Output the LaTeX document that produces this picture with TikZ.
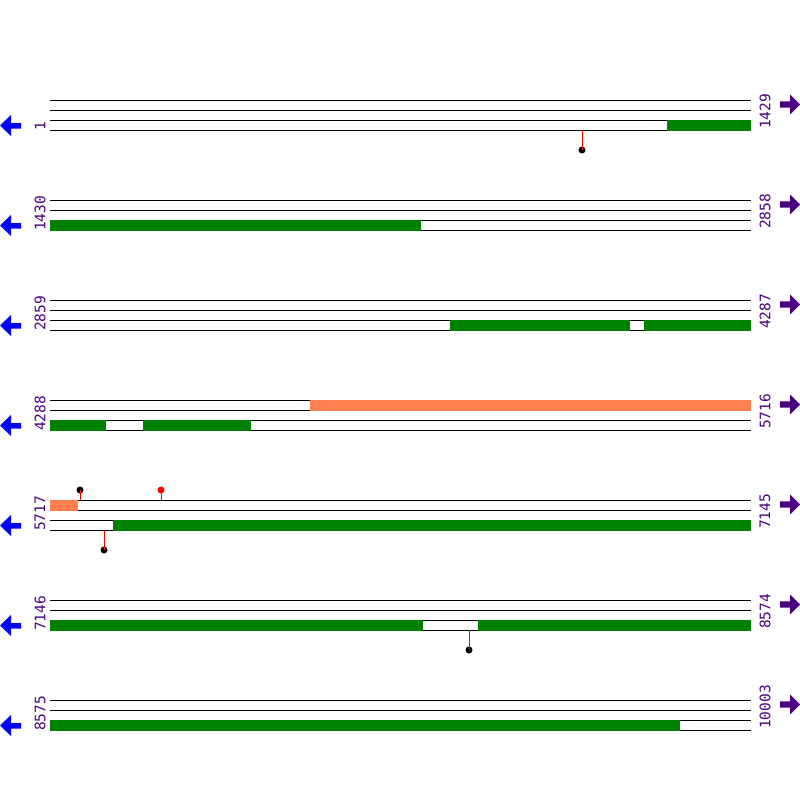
\documentclass[tikz,border=0pt]{standalone}
\usepackage{fontspec}
\setmonofont{DejaVu Sans Mono}
\usepackage{tikz}
\definecolor{cdsgreen}{RGB}{0,128,0}
\definecolor{regcoral}{RGB}{255,127,80}
\definecolor{seqpurple}{RGB}{75,0,130}
\tikzstyle{track} = [black, line width=1pt]
\tikzstyle{cds} = [fill=cdsgreen]
\tikzstyle{region} = [fill=regcoral]
\tikzstyle{numlabel} = [rotate=90, anchor=west, inner sep=0pt, text=seqpurple,
 font=\ttfamily\fontsize{14.5}{14.5}\selectfont]
\tikzstyle{pinstem} = [red, line width=1pt]
\tikzstyle{pinhead} = [circle, inner sep=0pt, minimum size=7pt]

\begin{document}
\begin{tikzpicture}[x=1pt, y=-1pt]
	\useasboundingbox (0,0) rectangle (800,800);
	% Zeilen: Linien, Beschriftungen, Pfeile
	\foreach \r/\a/\b in {0/1/1429, 1/1430/2858, 2/2859/4287, 3/4288/5716,
	                      4/5717/7145, 5/7146/8574, 6/8575/10003} {
		\pgfmathsetmacro\y{100+100*\r}
		\foreach \k in {0,10,20,30}
			\draw[track] (50,\y+\k) -- (751,\y+\k); % vier Linien
		\node[numlabel] (left\r) at (40,\y+31) {\a}; % Start
		\node[numlabel] (right\r) at (765,\y+29) {\b}; % Ende
		\fill[blue] (0,\y+25.5) -- (11,\y+15) -- (11,\y+23) -- (21,\y+23)
			-- (21,\y+28.5) -- (11,\y+28.5) -- (11,\y+36) -- cycle; % Pfeil links
		\fill[seqpurple] (800,\y+4.5) -- (790,\y-5.5) -- (790,\y+1.3) -- (780,\y+1.3)
			-- (780,\y+7.7) -- (790,\y+7.7) -- (790,\y+14.5) -- cycle; % Pfeil rechts
	}
	% Balken
	\fill[cds] (667,119.5) rectangle (751,130.5); % Zeile 1
	\fill[cds] (50,219.5) rectangle (421,230.5); % Zeile 2
	\fill[cds] (450,319.5) rectangle (630,330.5); % Zeile 3
	\fill[cds] (644,319.5) rectangle (751,330.5);
	\fill[region] (310,399.5) rectangle (751,410.5); % Zeile 4
	\fill[cds] (50,419.5) rectangle (106,430.5);
	\fill[cds] (143,419.5) rectangle (251,430.5);
	\fill[region] (50,499.5) rectangle (78,510.5); % Zeile 5
	\fill[cds] (113,519.5) rectangle (751,530.5);
	\fill[cds] (50,619.5) rectangle (423,630.5); % Zeile 6
	\fill[cds] (478,619.5) rectangle (751,630.5);
	\fill[cds] (50,719.5) rectangle (680,730.5); % Zeile 7
	% Markierungen
	\coordinate (m1) at (582,130);
	\node[pinhead, fill=black] (d1) at (582,150) {};
	\draw[pinstem] (m1) -- (d1.center);
	\coordinate (m2) at (80,500);
	\node[pinhead, fill=black] (d2) at (80,490) {};
	\draw[pinstem] (m2) -- (d2.center);
	\coordinate (m3) at (161,500);
	\node[pinhead, fill=red] (d3) at (161,490) {};
	\draw[pinstem] (m3) -- (d3.center);
	\coordinate (m4) at (104,530);
	\node[pinhead, fill=black] (d4) at (104,550) {};
	\draw[pinstem] (m4) -- (d4.center);
	\coordinate (m5) at (469,630);
	\node[pinhead, fill=black] (d5) at (469,650) {};
	\draw[pinstem] (m5) -- (d5.center);
\end{tikzpicture}
\end{document}
